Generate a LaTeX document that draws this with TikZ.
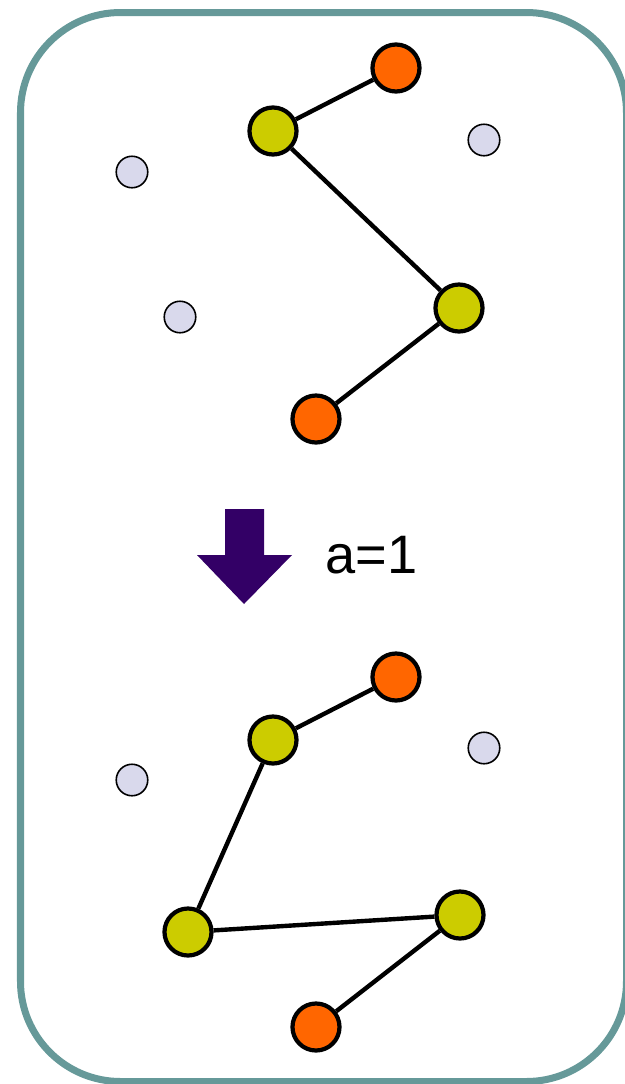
\documentclass[tikz,border=0pt]{standalone}
\usepackage{fontspec}
\setmainfont{Liberation Sans}
\usepackage{tikz}
\usetikzlibrary{positioning}
\definecolor{catTeal}{HTML}{669999}
\definecolor{catOrange}{HTML}{FF6600}
\definecolor{catOlive}{HTML}{CCCC00}
\definecolor{catLavender}{HTML}{D9D9EC}
\definecolor{catPurple}{HTML}{330066}

\begin{document}
\begin{tikzpicture}[x=0.01cm, y=-0.01cm, font=\fontsize{15.4}{18}\selectfont,
    endpt/.style={circle, draw, line width=1.2pt, fill=catOrange, minimum size=0.47cm, inner sep=0pt},
    midpt/.style={circle, draw, line width=1.2pt, fill=catOlive, minimum size=0.47cm, inner sep=0pt},
    freept/.style={circle, draw, line width=0.45pt, fill=catLavender, minimum size=0.315cm, inner sep=0pt},
    link/.style={line width=1.25pt}]
    \useasboundingbox (0,0) rectangle (625,1084);
    % Marco
    \draw[catTeal, line width=0.07cm, rounded corners=1cm] (20.5,12.5) rectangle (626.5,1081.5);

    % Antes
    \node[freept] (f1) at (132,172) {};
    \node[freept] (f2) at (180,317) {};
    \node[freept] (f3) at (484,140) {};
    \node[endpt] (o1) at (396,68) {};
    \node[midpt] (y1) at (273,131) {};
    \node[midpt] (y2) at (459,308) {};
    \node[endpt] (o2) at (316,419) {};
    \draw[link] (o1) -- (y1);
    \draw[link] (y1) -- (y2);
    \draw[link] (y2) -- (o2);

    % Paso
    \fill[catPurple] (225,509) -- (264,509) -- (264,555) -- (292,555) -- (244,604)
        -- (197,555) -- (225,555) -- cycle;
    \node[anchor=base west, inner sep=0pt] (lbl) at (325,573) {a=1};

    % Despues
    \node[freept] (f4) at (484,748) {};
    \node[freept] (f5) at (132,780) {};
    \node[endpt] (o3) at (396,677) {};
    \node[midpt] (y3) at (273,740) {};
    \node[midpt] (y4) at (188,932) {};
    \node[midpt] (y5) at (460,915) {};
    \node[endpt] (o4) at (316,1027) {};
    \draw[link] (o3) -- (y3);
    \draw[link] (y3) -- (y4);
    \draw[link] (y4) -- (y5);
    \draw[link] (y5) -- (o4);
\end{tikzpicture}
\end{document}
